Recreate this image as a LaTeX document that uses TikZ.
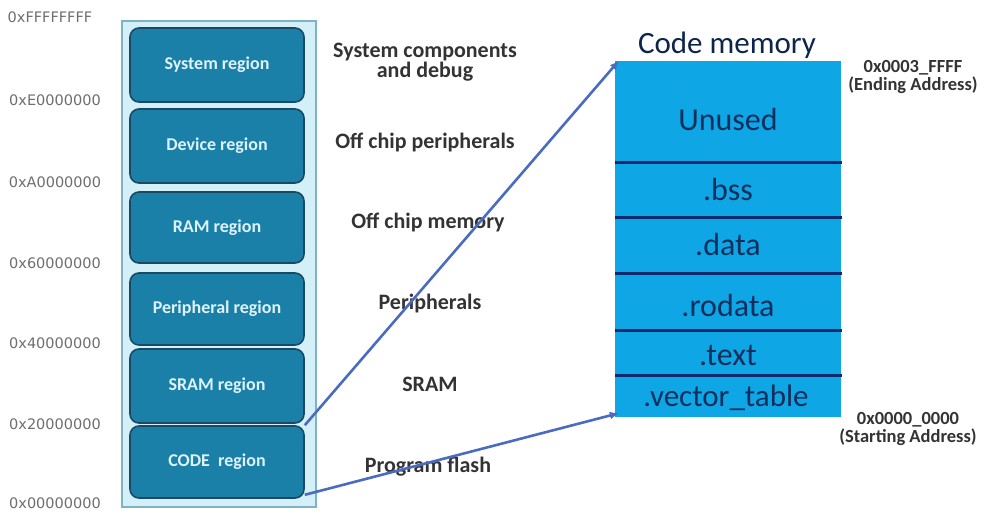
\documentclass[tikz,border=0pt]{standalone}
\usepackage{fontspec}
\setmainfont{Carlito}
\newfontfamily\addrfont{DejaVu Sans}
\usetikzlibrary{arrows.meta}
\definecolor{outerfill}{HTML}{D3EFF7}
\definecolor{outerline}{HTML}{7FB3C4}
\definecolor{regfill}{HTML}{1A80A7}
\definecolor{regline}{HTML}{1A4A63}
\definecolor{regtext}{HTML}{DDF2FA}
\definecolor{memfill}{HTML}{0FA6E6}
\definecolor{memline}{HTML}{0D2A6E}
\definecolor{memtext}{HTML}{0F2F5C}
\definecolor{arrowblue}{HTML}{4A6CC0}
\definecolor{addrgray}{HTML}{6E6E6E}
\definecolor{labgray}{HTML}{333333}
\tikzset{
  region/.style={draw=regline, line width=1.6pt, fill=regfill, rounded corners=9pt,
    minimum width=174pt, text=regtext, font=\bfseries\fontsize{18}{20}\selectfont, inner sep=0pt},
  addr/.style={text=addrgray, font=\addrfont\fontsize{14.5}{16}\selectfont, inner sep=0pt},
  midlab/.style={text=labgray, font=\bfseries\fontsize{22}{20}\selectfont, align=center, inner sep=0pt},
  sect/.style={text=memtext, font=\fontsize{32}{34}\selectfont, inner sep=0pt},
  divider/.style={draw=memline, line width=3pt},
  arr/.style={draw=arrowblue, line width=2.6pt, -{Latex[length=9pt,width=8pt]}, shorten >=0pt},
  endlab/.style={text=labgray, font=\bfseries\fontsize{18.5}{18}\selectfont, align=center, inner sep=0pt}
}
\begin{document}
\begin{tikzpicture}[x=1pt,y=-1pt]
\useasboundingbox (0,0) rectangle (982,512);
% outer container
\node[draw=outerline, line width=1.2pt, fill=outerfill, minimum width=194pt, minimum height=486pt, inner sep=0pt] (outer) at (219,264) {};
% regions
\node[region, minimum height=74pt] (sys) at (217,65) {System region};
\node[region, minimum height=74pt] (dev) at (217,146) {Device region};
\node[region, minimum height=71pt] (ram) at (217,227.5) {RAM region};
\node[region, minimum height=72pt] (per) at (217,309) {Peripheral region};
\node[region, minimum height=74pt] (sram) at (217,386) {SRAM region};
\node[region, minimum height=72pt] (code) at (217,462) {CODE\ \ region};
% addresses
\node[addr] (a7) at (50,17) {0xFFFFFFFF};
\node[addr] (a6) at (55,100) {0xE0000000};
\node[addr] (a5) at (55,182) {0xA0000000};
\node[addr] (a4) at (55,263) {0x60000000};
\node[addr] (a3) at (55,343) {0x40000000};
\node[addr] (a2) at (55,424) {0x20000000};
\node[addr] (a1) at (55,503) {0x00000000};
% middle labels
\node[midlab] (l1) at (425,62) {System components\\and debug};
\node[midlab] (l2) at (425,142) {Off chip peripherals};
\node[midlab] (l3) at (428,222) {Off chip memory};
\node[midlab] (l4) at (430,304) {Peripherals};
\node[midlab] (l5) at (430,384) {SRAM};
\node[midlab] (l6) at (428,467) {Program flash};
% code memory
\node[text=memtext!80!black, font=\fontsize{31}{33}\selectfont, inner sep=0pt] (title) at (727,45) {Code memory};
\node[fill=memfill, minimum width=226pt, minimum height=356pt, inner sep=0pt] (mem) at (728,239) {};
\coordinate (d1l) at (615,162); \coordinate (d1r) at (842,162);
\coordinate (d2l) at (615,217); \coordinate (d2r) at (842,217);
\coordinate (d3l) at (615,273); \coordinate (d3r) at (842,273);
\coordinate (d4l) at (615,330); \coordinate (d4r) at (842,330);
\coordinate (d5l) at (615,375); \coordinate (d5r) at (842,375);
\draw[divider] (d1l) -- (d1r);
\draw[divider] (d2l) -- (d2r);
\draw[divider] (d3l) -- (d3r);
\draw[divider] (d4l) -- (d4r);
\draw[divider] (d5l) -- (d5r);
\node[sect] (s1) at (728,120) {Unused};
\node[sect] (s2) at (728,190) {.bss};
\node[sect] (s3) at (728,245) {.data};
\node[sect] (s4) at (728,306) {.rodata};
\node[sect] (s5) at (728,355) {.text};
\node[sect, font=\fontsize{31}{33}\selectfont] (s6) at (726,398) {.vector\_table};
% end labels
\node[endlab] (e1) at (913,77) {0x0003\_FFFF\\(Ending Address)};
\node[endlab] (e2) at (908,429) {0x0000\_0000\\(Starting Address)};
% arrows
\draw[arr] (code.north east) -- ([xshift=4pt]mem.north west);
\draw[arr] ([yshift=4pt]code.south east) -- ([xshift=4pt,yshift=4pt]mem.south west);
\end{tikzpicture}
\end{document}
